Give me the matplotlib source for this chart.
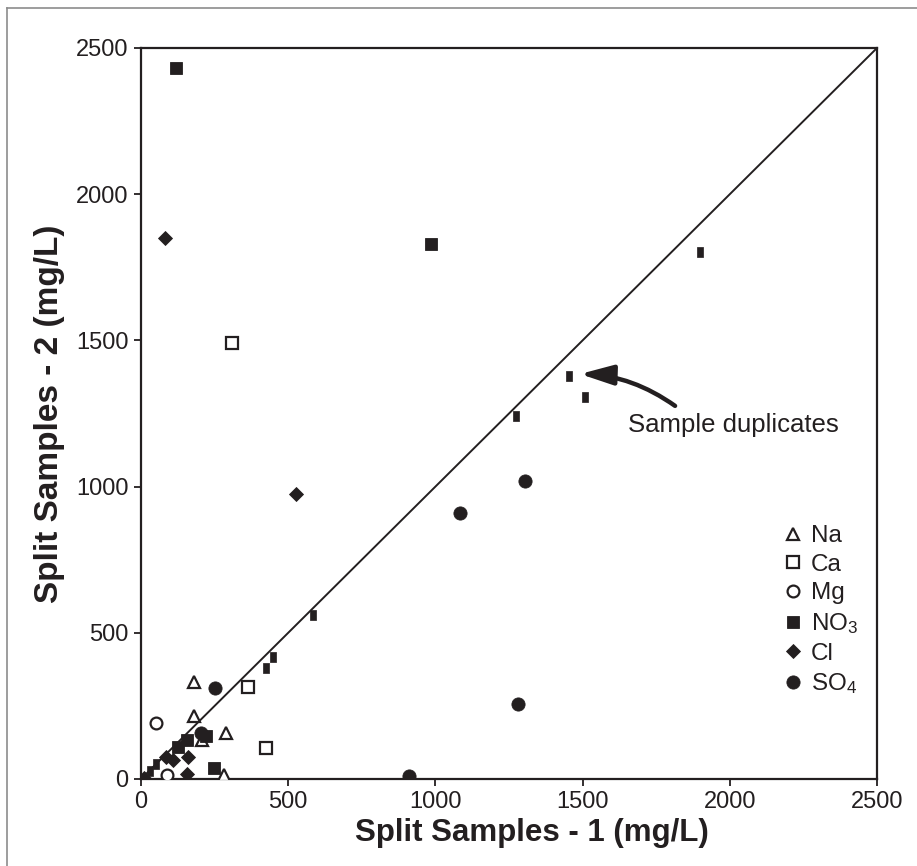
import matplotlib.pyplot as plt
from matplotlib.lines import Line2D
from matplotlib.path import Path

plt.rcParams['font.family'] = ['Liberation Sans', 'DejaVu Sans']
plt.rcParams['mathtext.fontset'] = 'custom'
plt.rcParams['mathtext.rm'] = 'Liberation Sans'
plt.rcParams['mathtext.default'] = 'rm'

INK = '#231f20'

# split 1 / split 2 concentrations (mg/L) per analyte
na_x = [180, 180, 288, 206, 283]
na_y = [330, 215, 156, 133, 14]

ca_x = [310, 365, 425]
ca_y = [1490, 315, 105]

mg_x = [51, 87]
mg_y = [190, 14]

no3_x = [120, 985, 222, 155, 127, 248]
no3_y = [2430, 1830, 148, 133, 110, 37]

cl_x = [80, 525, 84, 110, 158, 155, 10]
cl_y = [1850, 975, 76, 65, 76, 16, 3]

so4_x = [250, 205, 910, 1085, 1305, 1280]
so4_y = [310, 158, 10, 910, 1020, 255]

# duplicate pairs of the same sample
dup_x = [30, 52, 425, 449, 585, 1273, 1455, 1509, 1899]
dup_y = [28, 50, 380, 416, 560, 1243, 1379, 1305, 1803]

axis_max = 2500
ticks = [0, 500, 1000, 1500, 2000, 2500]

# narrow upright bar used for the duplicates
bar = Path([(-0.3, -0.5), (0.3, -0.5), (0.3, 0.5), (-0.3, 0.5), (-0.3, -0.5)],
           [Path.MOVETO, Path.LINETO, Path.LINETO, Path.LINETO, Path.CLOSEPOLY])

fig = plt.figure(figsize=(9.17, 8.66), dpi=100)
ax = fig.add_axes([0.1538, 0.1005, 0.8026, 0.8441])

# 1:1 line
ax.plot([0, axis_max], [0, axis_max], color=INK, lw=1.4, zorder=1)

ax.plot(dup_x, dup_y, ls='none', marker=bar, ms=7.5, color=INK, mec=INK, mew=0.5, zorder=3)

open_kw = dict(ls='none', mfc='white', mec=INK, mew=1.6, zorder=4)
fill_kw = dict(ls='none', color=INK, mec=INK, mew=0.6, zorder=4)
ax.plot(na_x, na_y, marker='^', ms=8.5, label='Na', **open_kw)
ax.plot(ca_x, ca_y, marker='s', ms=8.0, label='Ca', **open_kw)
ax.plot(mg_x, mg_y, marker='o', ms=8.5, label='Mg', **open_kw)
ax.plot(no3_x, no3_y, marker='s', ms=8.8, label='NO$_3$', **fill_kw)
ax.plot(cl_x, cl_y, marker='D', ms=7.2, label='Cl', **fill_kw)
ax.plot(so4_x, so4_y, marker='o', ms=9.5, label='SO$_4$', **fill_kw)

# arrow to the duplicates
ax.annotate('', xy=(1491, 1385), xytext=(1814, 1276),
            arrowprops=dict(arrowstyle='-|>,head_length=2.0,head_width=0.6',
                            connectionstyle='arc3,rad=0.15',
                            color=INK, lw=3.2, shrinkA=0, shrinkB=0))
ax.text(1654, 1211, 'Sample duplicates', fontsize=18.5, color=INK,
        ha='left', va='center')

ax.set_xlim(0, axis_max)
ax.set_ylim(0, axis_max)
ax.set_xticks(ticks)
ax.set_yticks(ticks)
ax.tick_params(direction='out', length=5, width=1.3, colors=INK,
               labelsize=17, pad=4)
for s in ax.spines.values():
    s.set_linewidth(1.6)
    s.set_color(INK)

ax.set_xlabel('Split Samples - 1 (mg/L)', fontsize=22.5, fontweight='bold', color=INK)
ax.xaxis.set_label_coords(0.531, -0.054, transform=ax.transAxes)
ax.xaxis.label.set_va('top')
ax.set_ylabel('Split Samples - 2 (mg/L)', fontsize=24, fontweight='bold',
              color=INK, labelpad=8)

ax.legend(loc='upper left', bbox_to_anchor=(0.872, 0.347), frameon=False,
          fontsize=17.5, borderpad=0, borderaxespad=0, handlelength=0.8,
          handletextpad=0.35, labelspacing=0.27, markerscale=1.0, numpoints=1,
          labelcolor=INK)

# frame edges of the panel
fig.add_artist(Line2D([7 / 917, 7 / 917], [0, 1 - 8 / 866], color='#8c8c8c', lw=1.2))
fig.add_artist(Line2D([7 / 917, 1], [1 - 8 / 866, 1 - 8 / 866], color='#8c8c8c', lw=1.2))

fig.savefig('out.png', dpi=100)
